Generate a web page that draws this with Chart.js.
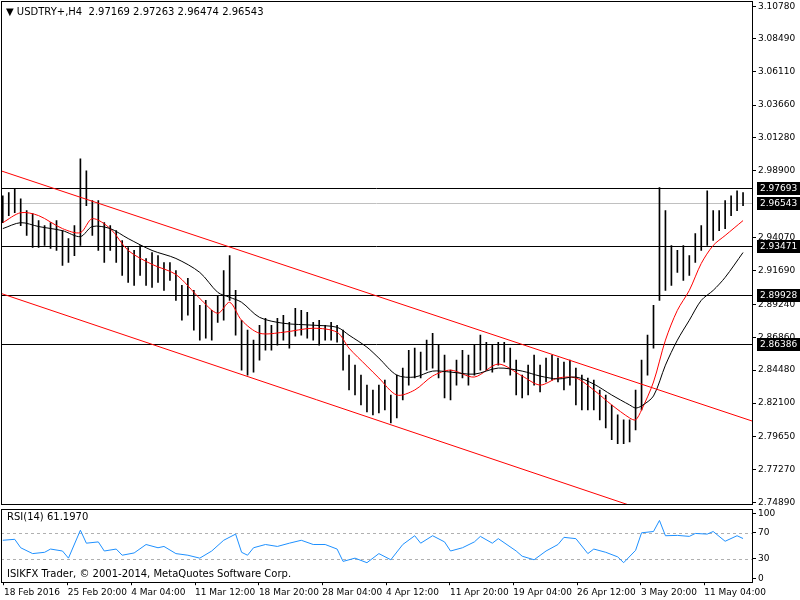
<!DOCTYPE html>
<html>
<head>
<meta charset="utf-8">
<script src="https://cdn.jsdelivr.net/npm/chart.js@4.4.1/dist/chart.umd.min.js"></script>
<style>
  body { margin: 0; background: #fff; overflow: hidden; }
  #wrap { position: relative; width: 800px; height: 600px; overflow: hidden; }
  #main { position: absolute; left: 0; top: -6px; }
  #rsi { position: absolute; left: 0; top: 502px; }
</style>
</head>
<body>
<div id="wrap">
  <canvas id="main" width="800" height="518"></canvas>
  <canvas id="rsi" width="800" height="98"></canvas>
</div>
<script>
// H4 bars, index 0 = 18 Feb 2016
const highs = [
  2.9710, 2.9732, 2.9761, 2.9688, 2.9602, 2.9580, 2.9530, 2.9494, 2.9515, 2.9530,
  2.9457, 2.9400, 2.9494, 2.9977, 2.9890, 2.9674, 2.9674, 2.9515, 2.9494, 2.9457,
  2.9386, 2.9335, 2.9314, 2.9350, 2.9256, 2.9299, 2.9277, 2.9227, 2.9227, 2.9169,
  2.9061, 2.9112, 2.9025, 2.8917, 2.8953, 2.8881, 2.8982, 2.9169, 2.9277, 2.9025,
  2.8809, 2.8737, 2.8665, 2.8773, 2.8823, 2.8773, 2.8823, 2.8845, 2.8794, 2.8895,
  2.8881, 2.8866, 2.8794, 2.8809, 2.8773, 2.8794, 2.8773, 2.8737, 2.8556, 2.8484,
  2.8412, 2.8340, 2.8304, 2.8340, 2.8376, 2.8268, 2.8412, 2.8463, 2.8592, 2.8607,
  2.8578, 2.8665, 2.8715, 2.8629, 2.8556, 2.8448, 2.8520, 2.8592, 2.8556, 2.8629,
  2.8701, 2.8650, 2.8629, 2.8650, 2.8650, 2.8607, 2.8520, 2.8412, 2.8484, 2.8556,
  2.8484, 2.8535, 2.8556, 2.8535, 2.8506, 2.8520, 2.8463, 2.8412, 2.8391, 2.8376,
  2.8304, 2.8268, 2.8196, 2.8124, 2.8088, 2.8088, 2.8304, 2.8520, 2.8701, 2.8917,
  2.9768, 2.9602, 2.9350, 2.9314, 2.9350, 2.9277, 2.9436, 2.9494, 2.9746, 2.9602,
  2.9602, 2.9674, 2.9710, 2.9746, 2.9732
];
const lows = [
  2.9515, 2.9566, 2.9587, 2.9494, 2.9422, 2.9335, 2.9335, 2.9350, 2.9328, 2.9314,
  2.9205, 2.9227, 2.9277, 2.9350, 2.9638, 2.9422, 2.9314, 2.9227, 2.9314, 2.9227,
  2.9133, 2.9083, 2.9061, 2.9133, 2.9061, 2.9047, 2.9083, 2.9025, 2.9097, 2.8953,
  2.8809, 2.8845, 2.8737, 2.8665, 2.8679, 2.8665, 2.8794, 2.8809, 2.8953, 2.8701,
  2.8448, 2.8412, 2.8434, 2.8520, 2.8592, 2.8592, 2.8629, 2.8665, 2.8607, 2.8694,
  2.8701, 2.8679, 2.8665, 2.8629, 2.8665, 2.8665, 2.8650, 2.8448, 2.8304, 2.8268,
  2.8196, 2.8145, 2.8124, 2.8138, 2.8160, 2.8066, 2.8102, 2.8232, 2.8340, 2.8391,
  2.8391, 2.8448, 2.8463, 2.8391, 2.8246, 2.8232, 2.8340, 2.8391, 2.8340, 2.8412,
  2.8448, 2.8448, 2.8434, 2.8484, 2.8506, 2.8412, 2.8268, 2.8246, 2.8268, 2.8340,
  2.8290, 2.8362, 2.8376, 2.8362, 2.8304, 2.8340, 2.8196, 2.8160, 2.8160, 2.8160,
  2.8088, 2.8030, 2.7944, 2.7915, 2.7915, 2.7929, 2.8016, 2.8160, 2.8412, 2.8607,
  2.8953, 2.9025, 2.9061, 2.9155, 2.9097, 2.9133, 2.9227, 2.9314, 2.9350, 2.9386,
  2.9457, 2.9472, 2.9566, 2.9602, 2.9638
];

// moving averages, sampled at these bar indices
const maIdx = [0, 3, 6, 10, 13, 15, 18, 21, 25, 29, 33, 36, 38, 40, 43, 47, 52, 56, 58, 61, 63, 66,
  69, 72, 75, 79, 83, 87, 90, 93, 96, 99, 102, 105, 106, 107, 109, 111, 113, 115, 117, 119, 121, 124];
const maFast = [2.9515, 2.9587, 2.9566, 2.9472, 2.9443, 2.9544, 2.9472, 2.9314, 2.9213, 2.9140,
  2.8967, 2.8859, 2.8939, 2.8809, 2.8715, 2.8722, 2.8751, 2.8722, 2.8607, 2.8477,
  2.8391, 2.8268, 2.8304, 2.8405, 2.8448, 2.8398, 2.8492, 2.8405, 2.8340, 2.8391,
  2.8391, 2.8304, 2.8196, 2.8102, 2.8088, 2.8160, 2.8362, 2.8665, 2.8881, 2.9025,
  2.9220, 2.9350, 2.9422, 2.9530];
const maSlow = [2.9472, 2.9515, 2.9487, 2.9457, 2.9414, 2.9487, 2.9472, 2.9400, 2.9314, 2.9256,
  2.9155, 2.9011, 2.8975, 2.8939, 2.8830, 2.8787, 2.8773, 2.8758, 2.8701, 2.8614,
  2.8535, 2.8412, 2.8398, 2.8441, 2.8434, 2.8419, 2.8463, 2.8441, 2.8405, 2.8384,
  2.8398, 2.8347, 2.8268, 2.8196, 2.8174, 2.8189, 2.8261, 2.8484, 2.8665, 2.8809,
  2.8953, 2.9025, 2.9119, 2.9299];

// channel lines: [index, price] end points
const channelTop = [[-0.3, 2.9890], [125.5, 2.8080]];
const channelBottom = [[-0.3, 2.9003], [125.5, 2.7172]];

const levels = [2.97693, 2.93471, 2.89928, 2.86386];
const lastPrice = 2.96543;
const priceTicks = [3.10780, 3.08490, 3.06110, 3.03660, 3.01280, 2.98900, 2.94070, 2.91690,
  2.89240, 2.86860, 2.84480, 2.82100, 2.79650, 2.77270, 2.74890];

const rsiIdx = [0, 2, 3, 5, 7, 8, 10, 11, 13, 14, 16, 17, 19, 20, 22, 24, 26, 27, 29, 31, 33, 35, 37,
  39, 40, 41, 42, 44, 46, 48, 50, 52, 54, 56, 57, 59, 61, 63, 65, 67, 69, 70, 72, 74, 75, 77, 79,
  80, 82, 83, 86, 87, 89, 91, 93, 94, 96, 98, 99, 101, 103, 104, 106, 107, 109, 110, 111, 113,
  115, 116, 118, 119, 121, 123, 124];
const rsiVals = [58.5, 60, 47, 38, 40, 45, 42, 31, 74, 54, 56, 42, 45, 35.5, 39, 52, 47, 49, 38,
  35.5, 31, 42, 58.5, 68, 40, 35.5, 47, 52, 49, 54, 58.5, 52, 52, 45, 26, 31, 24, 38, 28.5, 52,
  65.5, 54, 65.5, 56, 42, 47, 56, 64.5, 54, 61, 42, 34, 28.5, 42, 52, 63, 61, 38, 45, 40, 33,
  24, 43, 70, 72, 89, 65.5, 66, 64.5, 69, 68, 72, 57, 65.5, 61.2];
const rsiTicks = [100, 70, 30, 0];

const dateIdx = [0.2, 10.9, 21.5, 32.2, 42.9, 53.5, 64.2, 74.9, 85.5, 96.2, 106.9, 117.5];
const dateLabels = ['18 Feb 2016', '25 Feb 20:00', '4 Mar 04:00', '11 Mar 12:00', '18 Mar 20:00',
  '28 Mar 04:00', '4 Apr 12:00', '11 Apr 20:00', '19 Apr 04:00', '26 Apr 12:00', '3 May 20:00',
  '11 May 04:00'];

const FONT = { family: 'DejaVu Sans', size: 9 };
const xMin = -0.3, xMax = 125.5;
Chart.defaults.animation = false;
Chart.defaults.font = FONT;
Chart.defaults.color = '#000';

function frame(chart) {
  const a = chart.chartArea, ctx = chart.ctx;
  ctx.save();
  ctx.strokeStyle = '#000';
  ctx.lineWidth = 1;
  ctx.strokeRect(Math.round(a.left) + 0.5, Math.round(a.top) + 0.5,
    Math.round(a.right - a.left), Math.round(a.bottom - a.top));
  ctx.restore();
}

const mainPlugin = {
  id: 'mainDecor',
  beforeDatasetsDraw(chart) {
    const ctx = chart.ctx, a = chart.chartArea, y = chart.scales.y;
    ctx.save();
    ctx.lineWidth = 1;
    ctx.strokeStyle = '#c0c0c0';
    let py = Math.round(y.getPixelForValue(lastPrice)) + 0.5;
    ctx.beginPath(); ctx.moveTo(a.left, py); ctx.lineTo(a.right, py); ctx.stroke();
    ctx.strokeStyle = '#000';
    levels.forEach(v => {
      const p = Math.round(y.getPixelForValue(v)) + 0.5;
      ctx.beginPath(); ctx.moveTo(a.left, p); ctx.lineTo(a.right, p); ctx.stroke();
    });
    ctx.restore();
  },
  afterDraw(chart) {
    const ctx = chart.ctx, a = chart.chartArea, y = chart.scales.y;
    frame(chart);
    ctx.save();
    ctx.font = '9px "DejaVu Sans"';
    ctx.textBaseline = 'middle';
    levels.concat([lastPrice]).forEach(v => {
      const p = Math.round(y.getPixelForValue(v));
      ctx.fillStyle = '#000';
      ctx.fillRect(a.right + 5, p - 6, 43, 13);
      ctx.fillStyle = '#fff';
      ctx.fillText(v.toFixed(5), a.right + 8, p + 0.5);
    });
    ctx.fillStyle = '#000';
    ctx.font = '10px "DejaVu Sans"';
    ctx.fillText('\u25BC USDTRY+,H4  2.97169 2.97263 2.96474 2.96543', a.left + 5, a.top + 11);
    ctx.restore();
  }
};

const rsiPlugin = {
  id: 'rsiDecor',
  beforeDatasetsDraw(chart) {
    const ctx = chart.ctx, a = chart.chartArea, y = chart.scales.y;
    ctx.save();
    ctx.strokeStyle = '#b0b0b0';
    ctx.setLineDash([3, 3]);
    [70, 30].forEach(v => {
      const p = Math.round(y.getPixelForValue(v)) + 0.5;
      ctx.beginPath(); ctx.moveTo(a.left, p); ctx.lineTo(a.right, p); ctx.stroke();
    });
    ctx.restore();
  },
  afterDraw(chart) {
    const ctx = chart.ctx, a = chart.chartArea;
    frame(chart);
    ctx.save();
    ctx.fillStyle = '#000';
    ctx.font = '10px "DejaVu Sans"';
    ctx.textBaseline = 'middle';
    ctx.fillText('RSI(14) 61.1970', a.left + 6, a.top + 8);
    ctx.fillText('ISIKFX Trader, \u00A9 2001-2014, MetaQuotes Software Corp.', a.left + 6, a.bottom - 8);
    ctx.restore();
  }
};

function fixWidth(axis) { axis.width = 48; }

new Chart(document.getElementById('main'), {
  type: 'bar',
  data: {
    datasets: [
      {
        type: 'line', data: channelTop.map(p => ({ x: p[0], y: p[1] })),
        borderColor: '#ff0000', borderWidth: 1, pointRadius: 0
      },
      {
        type: 'line', data: channelBottom.map(p => ({ x: p[0], y: p[1] })),
        borderColor: '#ff0000', borderWidth: 1, pointRadius: 0
      },
      {
        type: 'line', data: maIdx.map((x, i) => ({ x: x, y: maSlow[i] })),
        borderColor: '#000', borderWidth: 1, pointRadius: 0, tension: 0.3
      },
      {
        type: 'line', data: maIdx.map((x, i) => ({ x: x, y: maFast[i] })),
        borderColor: '#ff0000', borderWidth: 1, pointRadius: 0, tension: 0.3
      },
      {
        data: highs.map((h, i) => ({ x: i, y: [lows[i], h] })),
        backgroundColor: '#000', barThickness: 1, borderWidth: 0
      }
    ]
  },
  options: {
    responsive: false,
    layout: { padding: { left: 1, top: 0, right: 0, bottom: 0 } },
    plugins: { legend: { display: false }, tooltip: { enabled: false } },
    scales: {
      x: { type: 'linear', min: xMin, max: xMax, offset: false, display: false },
      y: {
        position: 'right', min: 2.7475, max: 3.1116,
        afterFit: fixWidth,
        afterBuildTicks: s => { s.ticks = priceTicks.map(v => ({ value: v })); },
        grid: { drawOnChartArea: false, tickLength: 4, color: '#000' },
        border: { color: '#000' },
        ticks: { padding: 2, callback: v => v.toFixed(5), font: FONT }
      }
    }
  },
  plugins: [mainPlugin]
});

new Chart(document.getElementById('rsi'), {
  type: 'line',
  data: {
    datasets: [{
      data: rsiIdx.map((x, i) => ({ x: x, y: rsiVals[i] })),
      borderColor: '#1e90ff', borderWidth: 1, pointRadius: 0
    }]
  },
  options: {
    responsive: false,
    layout: { padding: { left: 1, top: 0, right: 0, bottom: 0 } },
    plugins: { legend: { display: false }, tooltip: { enabled: false } },
    scales: {
      x: {
        type: 'linear', min: xMin, max: xMax, offset: false,
        afterBuildTicks: s => { s.ticks = dateIdx.map(v => ({ value: v })); },
        grid: { drawOnChartArea: false, tickLength: 3, color: '#000' },
        border: { display: false },
        ticks: {
          align: 'start', padding: 2, maxRotation: 0, autoSkip: false, font: FONT,
          callback: (v, i) => dateLabels[i]
        }
      },
      y: {
        position: 'right', min: -6, max: 106,
        afterFit: fixWidth,
        afterBuildTicks: s => { s.ticks = rsiTicks.map(v => ({ value: v })); },
        grid: { drawOnChartArea: false, tickLength: 4, color: '#000' },
        border: { color: '#000' },
        ticks: { padding: 2, font: FONT }
      }
    }
  },
  plugins: [rsiPlugin]
});
</script>
</body>
</html>
